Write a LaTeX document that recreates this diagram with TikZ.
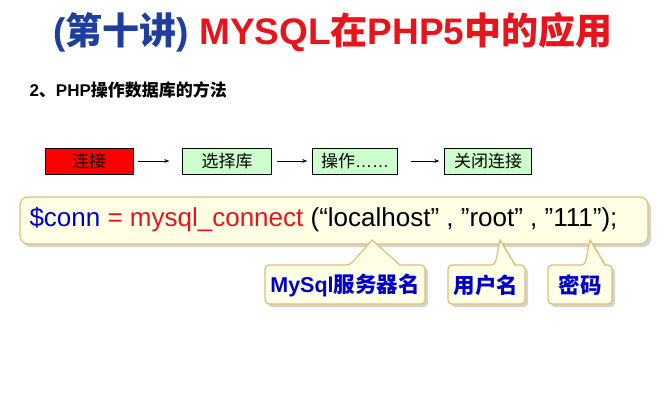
\documentclass[tikz,border=0pt]{standalone}
\usepackage{fontspec}
\setmainfont{Liberation Sans}
\newfontfamily\cjk{Noto Sans CJK SC}
\usetikzlibrary{shadows,arrows.meta}
\definecolor{tblue}{HTML}{1F3FA0}
\definecolor{tred}{HTML}{E8141C}
\definecolor{lgreen}{HTML}{CCFFCC}
\definecolor{lyel}{HTML}{FFFFE6}
\definecolor{tan}{HTML}{E0C070}
\tikzset{
 flow/.style={draw=black,fill=lgreen,minimum height=26pt,inner sep=0pt,font=\cjk\fontsize{17}{17}\selectfont},
 fl/.style={-{Stealth[length=5pt]},thin},
 yel/.style={fill=lyel,draw=tan,line width=1.2pt,drop shadow={shadow xshift=3pt,shadow yshift=-3pt,opacity=0.35}},
 ct/.style={font=\cjk\bfseries\fontsize{21.5}{21.5}\selectfont,text=blue!80!black}
}
\begin{document}
\begin{tikzpicture}[x=1pt,y=-1pt]
\useasboundingbox (0,0) rectangle (667,400);
\node (title) at (333,32) {\bfseries\fontsize{37}{37}\selectfont\textcolor{tblue}{(\cjk 第十讲\rmfamily)} \textcolor{tred}{MYSQL\cjk 在\rmfamily PHP5\cjk 中的应用}};
\node[anchor=west] (sub) at (26,90) {\bfseries\fontsize{17}{17}\selectfont 2\cjk 、\rmfamily PHP\cjk 操作数据库的方法};
\node[flow,fill=red,minimum width=88pt] (a) at (89,161) {连接};
\node[flow,minimum width=89pt] (b) at (227,161) {选择库};
\node[flow,minimum width=85pt] (c) at (355,161) {操作\rmfamily ……};
\node[flow,minimum width=87pt] (d) at (488,161) {关闭连接};
\draw[fl] ([xshift=5pt]a.east) -- ([xshift=-13pt]b.west);
\draw[fl] ([xshift=5pt]b.east) -- ([xshift=-5pt]c.west);
\draw[fl] ([xshift=13pt]c.east) -- ([xshift=-5pt]d.west);
\draw[yel,rounded corners=8pt] (20,197) rectangle (648,244);
\node[anchor=west,font=\fontsize{26}{26}\selectfont] (code) at (26,220) {\textcolor{blue!80!black}{\$conn} \textcolor{tred}{= mysql\_connect} (“localhost” , ”root” , ”111”);};
\draw[yel,rounded corners=4pt] (265,265) -- (350,265) [sharp corners]-- (372,240) -- (400,265)[rounded corners=4pt] -- (425,265) -- (425,304) -- (265,304) -- cycle;
\draw[yel,rounded corners=4pt] (448,265) -- (495,265) [sharp corners]-- (500,240) -- (515,265)[rounded corners=4pt] -- (525,265) -- (525,304) -- (448,304) -- cycle;
\draw[yel,rounded corners=4pt] (548,265) -- (585,265) [sharp corners]-- (590,240) -- (605,265)[rounded corners=4pt] -- (612,265) -- (612,304) -- (548,304) -- cycle;
\node[ct] (l1) at (345,285) {\rmfamily MySql\cjk 服务器名};
\node[ct] (l2) at (486,285) {用户名};
\node[ct] (l3) at (580,285) {密码};
\end{tikzpicture}
\end{document}
